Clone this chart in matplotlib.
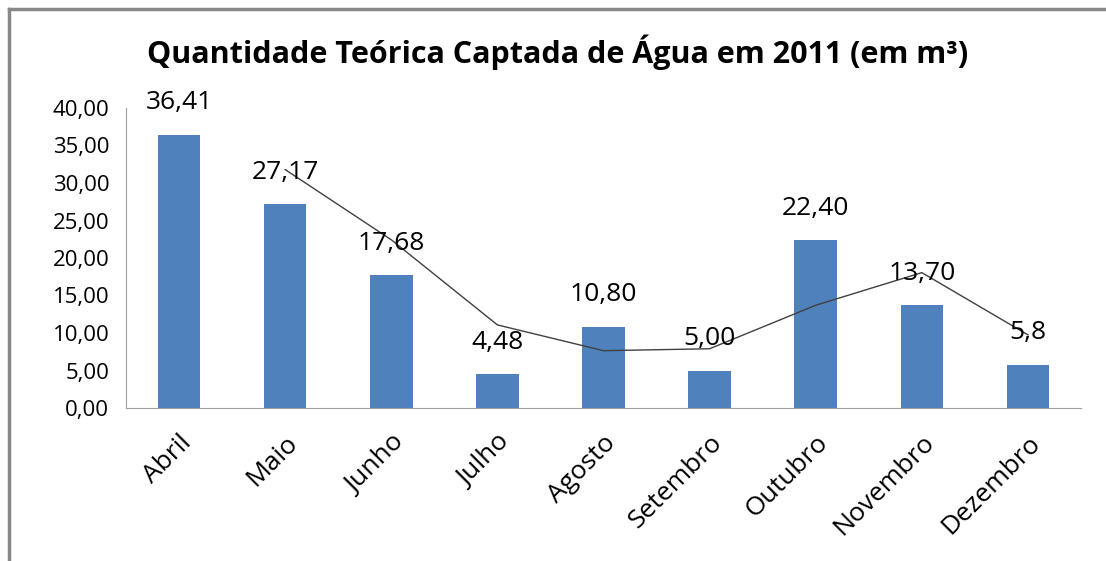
import matplotlib
matplotlib.use('Agg')
import matplotlib.pyplot as plt
from matplotlib.lines import Line2D
import numpy as np

meses = ['Abril', 'Maio', 'Junho', 'Julho', 'Agosto', 'Setembro', 'Outubro', 'Novembro', 'Dezembro']
valores = [36.41, 27.17, 17.68, 4.48, 10.80, 5.00, 22.40, 13.70, 5.8]
rotulos = ['36,41', '27,17', '17,68', '4,48', '10,80', '5,00', '22,40', '13,70', '5,8']
media_movel = [31.79, 22.43, 11.08, 7.64, 7.90, 13.70, 18.05, 9.75]
yticks = [0, 5, 10, 15, 20, 25, 30, 35, 40]
ytick_labels = ['0,00', '5,00', '10,00', '15,00', '20,00', '25,00', '30,00', '35,00', '40,00']

plt.rcParams['font.family'] = ['Open Sans', 'DejaVu Sans']

fig = plt.figure(figsize=(11.06, 5.61), dpi=100)
ax = fig.add_axes([126/1106, 1-408/561, (1081-126)/1106, 300/561])

x = np.arange(len(meses))
ax.bar(x, valores, width=0.4, color='#4f81bd', zorder=2)
ax.plot(x[1:], media_movel, color='#404040', lw=1, zorder=3)

for xi, v, r in zip(x, valores, rotulos):
    ax.annotate(r, (xi, v), xytext=(0, 32), textcoords='offset pixels',
                ha='center', va='center', fontsize=19, color='black', zorder=4)

ax.set_xlim(-0.5, len(meses) - 0.5)
ax.set_ylim(0, 40)
ax.set_yticks(yticks)
ax.set_yticklabels(ytick_labels, fontsize=16)
ax.set_xticks(x)
ax.set_xticklabels(meses, rotation=45, ha='right', rotation_mode='anchor', fontsize=19)
ax.tick_params(axis='y', length=0, pad=12)
ax.tick_params(axis='x', length=0, pad=16)
for s in ['top', 'right']:
    ax.spines[s].set_visible(False)
ax.spines['left'].set_color('#a0a0a0')
ax.spines['bottom'].set_color('#a0a0a0')

fig.text(558/1106, 1-52/561, 'Quantidade Teórica Captada de Água em 2011 (em m³)',
         ha='center', va='center', fontsize=22, fontweight='bold')

# moldura do grafico
fig.add_artist(Line2D([9/1106, 9/1106], [0, 1-9/561], color='#888888', lw=2.5, transform=fig.transFigure))
fig.add_artist(Line2D([9/1106, 1], [1-9/561, 1-9/561], color='#888888', lw=2.5, transform=fig.transFigure))

fig.savefig('out.png', dpi=100)
